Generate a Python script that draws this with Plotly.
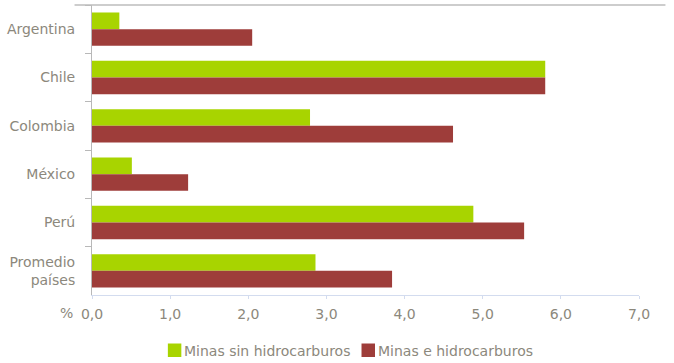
import plotly.graph_objects as go

categories = ["Argentina", "Chile", "Colombia", "México", "Perú", "Promedio<br>países"]
minas_sin = [0.35, 5.80, 2.79, 0.51, 4.88, 2.86]
minas_e = [2.05, 5.80, 4.62, 1.23, 5.53, 3.84]
series_names = ["Minas sin hidrocarburos", "Minas e hidrocarburos"]

GREEN = "#a8d400"
RED = "#9e3d3a"
GREY = "#8c887c"
FONT = "DejaVu Sans"

# plot area geometry (pixels) used to convert legend placement to paper coords
L, R, T, B = 91.5, 639.5, 5, 295
PW, PH = R - L, B - T


def px(x):
    return (x - L) / PW


def py(y):
    return (B - y) / PH


fig = go.Figure()
fig.add_trace(go.Bar(y=categories, x=minas_sin, orientation="h", name=series_names[0],
                     marker=dict(color=GREEN, line=dict(width=0))))
fig.add_trace(go.Bar(y=categories, x=minas_e, orientation="h", name=series_names[1],
                     marker=dict(color=RED, line=dict(width=0))))

fig.update_layout(
    width=674, height=363,
    margin=dict(l=L, r=674 - R, t=T, b=363 - B),
    paper_bgcolor="white", plot_bgcolor="white",
    barmode="group", bargap=0.31, bargroupgap=0,
    separators=",.",
    font=dict(family=FONT, size=14, color=GREY),
    showlegend=False,
    xaxis=dict(range=[0, 7], tickvals=[0, 1, 2, 3, 4, 5, 6, 7], tickformat=".1f",
               showgrid=False, zeroline=False, showline=True, linecolor="#d3dcef", linewidth=1,
               ticks="outside", ticklen=3, tickcolor="#d3dcef", automargin=False,
               ticklabelstandoff=3,
               tickfont=dict(family=FONT, size=14, color=GREY)),
    yaxis=dict(autorange="reversed", showgrid=False, zeroline=False, showline=True,
               linecolor="#b8b8b8", linewidth=1, ticks="outside", ticklen=6,
               tickcolor="#b8b8b8", tickson="boundaries", automargin=False,
               ticklabelstandoff=13,
               tickfont=dict(family=FONT, size=14, color=GREY)),
)

fig.add_shape(type="line", xref="paper", yref="paper",
              x0=px(74), x1=px(666), y0=1, y1=1,
              line=dict(color="#bdbdbd", width=1.5))

fig.add_annotation(text="%", xref="paper", yref="paper", x=px(66), y=py(313),
                   xanchor="center", yanchor="middle", showarrow=False,
                   font=dict(family=FONT, size=14, color=GREY))

# legend drawn manually (square swatch right next to text)
legend_items = [(series_names[0], GREEN, 167.5), (series_names[1], RED, 361.5)]
for name, color, x0 in legend_items:
    fig.add_shape(type="rect", xref="paper", yref="paper",
                  x0=px(x0), x1=px(x0 + 13.5), y0=py(357), y1=py(343.5),
                  fillcolor=color, line=dict(width=0))
    fig.add_annotation(text=name, xref="paper", yref="paper", x=px(x0 + 14.5), y=py(350.5),
                       xanchor="left", yanchor="middle", showarrow=False,
                       font=dict(family=FONT, size=14, color=GREY))

fig.write_html("out.html")
